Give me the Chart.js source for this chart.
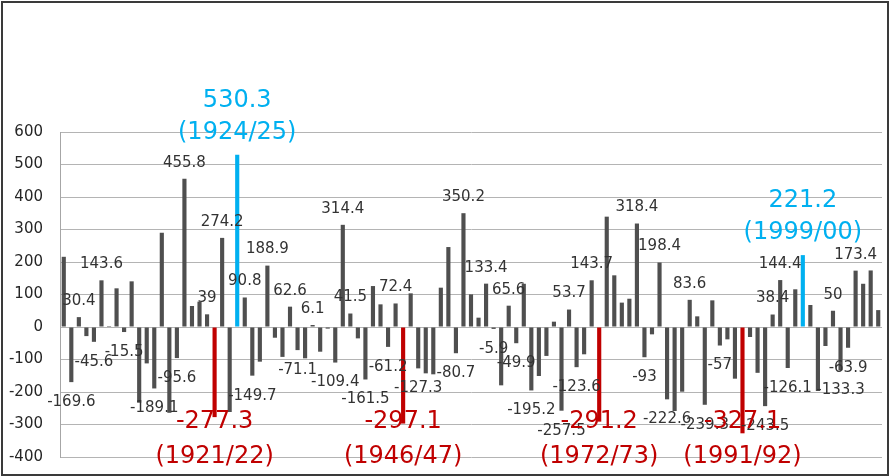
<!DOCTYPE html>
<html>
<head>
<meta charset="utf-8">
<script src="https://cdn.jsdelivr.net/npm/chart.js@4.4.1/dist/chart.umd.min.js"></script>
<style>
  html, body { margin: 0; padding: 0; background: #ffffff; overflow: hidden; }
  #wrap { position: relative; width: 891px; height: 476px; }
</style>
</head>
<body>
<div id="wrap"><canvas id="c"></canvas></div>
<script>
// Seasonal rainfall anomaly, 1901/02 to 2009/10
const seasons = [
  '1901/02','1902/03','1903/04','1904/05','1905/06','1906/07','1907/08','1908/09','1909/10','1910/11',
  '1911/12','1912/13','1913/14','1914/15','1915/16','1916/17','1917/18','1918/19','1919/20','1920/21',
  '1921/22','1922/23','1923/24','1924/25','1925/26','1926/27','1927/28','1928/29','1929/30','1930/31',
  '1931/32','1932/33','1933/34','1934/35','1935/36','1936/37','1937/38','1938/39','1939/40','1940/41',
  '1941/42','1942/43','1943/44','1944/45','1945/46','1946/47','1947/48','1948/49','1949/50','1950/51',
  '1951/52','1952/53','1953/54','1954/55','1955/56','1956/57','1957/58','1958/59','1959/60','1960/61',
  '1961/62','1962/63','1963/64','1964/65','1965/66','1966/67','1967/68','1968/69','1969/70','1970/71',
  '1971/72','1972/73','1973/74','1974/75','1975/76','1976/77','1977/78','1978/79','1979/80','1980/81',
  '1981/82','1982/83','1983/84','1984/85','1985/86','1986/87','1987/88','1988/89','1989/90','1990/91',
  '1991/92','1992/93','1993/94','1994/95','1995/96','1996/97','1997/98','1998/99','1999/00','2000/01',
  '2001/02','2002/03','2003/04','2004/05','2005/06','2006/07','2007/08','2008/09','2009/10'
];

const anomaly = [
  216, -169.6, 30.4, -28, -45.6, 143.6, 3, 119, -15.5, 140.5,
  -233, -112, -189.1, 290, -264, -95.6, 455.8, 64.6, 78, 39,
  -277.3, 274.2, -261.5, 530.3, 90.8, -149.7, -106.7, 188.9, -33, -92,
  62.6, -71.1, -96.4, 6.1, -76, -5, -109.4, 314.4, 41.5, -35,
  -161.5, 126, 69.7, -61.2, 72.4, -297.1, 103.6, -127.3, -142.6, -145.6,
  121, 246, -80.7, 350.2, 100.5, 28.7, 133.4, -5.9, -179.5, 65.6,
  -49.9, 133, -195.2, -150.8, -89, 16.4, -257.5, 53.7, -123.6, -84,
  143.7, -291.2, 339.5, 159, 75, 87, 318.4, -93, -22.6, 198.4,
  -222.6, -258.5, -199, 83.6, 32.8, -239.3, 82, -57, -38, -159,
  -327.1, -30.8, -141, -243.5, 38.4, 144.4, -126.1, 116, 221.2, 67.7,
  -197, -58.5, 50, -133.3, -63.9, 173.4, 133, 174, 52
];

// Seasons whose value is printed next to the bar
const labelledSeasons = [
  '1902/03','1903/04','1905/06','1906/07','1909/10','1913/14','1916/17','1917/18','1920/21','1922/23',
  '1925/26','1926/27','1928/29','1931/32','1932/33','1934/35','1937/38','1938/39','1939/40','1941/42',
  '1944/45','1945/46','1948/49','1953/54','1954/55','1957/58','1958/59','1960/61','1961/62','1963/64',
  '1967/68','1968/69','1969/70','1971/72','1977/78','1978/79','1980/81','1981/82','1984/85','1986/87',
  '1988/89','1994/95','1995/96','1996/97','1997/98','2003/04','2004/05','2005/06','2006/07'
];

// Extreme seasons
const wettestSeasons = ['1924/25', '1999/00'];
const driestSeasons = ['1921/22', '1946/47', '1972/73', '1991/92'];

const yTicks = [600, 500, 400, 300, 200, 100, 0, -100, -200, -300, -400];

const BAR = '#4f4f4f';
const WET = '#00b0f0';
const DRY = '#c00000';
const FONT = '"DejaVu Sans", Verdana, sans-serif';

function barColour(i) {
  const s = seasons[i];
  if (wettestSeasons.includes(s)) return WET;
  if (driestSeasons.includes(s)) return DRY;
  return BAR;
}

const valueLabels = {
  id: 'valueLabels',
  afterDatasetsDraw(chart) {
    const ctx = chart.ctx;
    const meta = chart.getDatasetMeta(0);
    const y = chart.scales.y;
    ctx.save();
    ctx.textAlign = 'center';
    ctx.textBaseline = 'middle';

    // ordinary value labels
    ctx.font = '15px ' + FONT;
    ctx.fillStyle = '#333333';
    labelledSeasons.forEach(s => {
      const i = seasons.indexOf(s);
      const v = anomaly[i];
      const bar = meta.data[i];
      const ly = v >= 0 ? bar.y - 16 : bar.y + 20;
      ctx.fillText(String(v), bar.x, ly);
    });

    // extreme seasons: value and season, larger
    ctx.font = '24px ' + FONT;
    wettestSeasons.forEach(s => {
      const i = seasons.indexOf(s);
      const bar = meta.data[i];
      ctx.fillStyle = WET;
      ctx.fillText(String(anomaly[i]), bar.x, bar.y - 54);
      ctx.fillText('(' + s + ')', bar.x, bar.y - 22);
    });
    driestSeasons.forEach(s => {
      const i = seasons.indexOf(s);
      const bar = meta.data[i];
      ctx.fillStyle = DRY;
      ctx.fillText(String(anomaly[i]), bar.x, y.getPixelForValue(-291));
      ctx.fillText('(' + s + ')', bar.x, y.getPixelForValue(-398));
    });
    ctx.restore();
  }
};

const frame = {
  id: 'frame',
  beforeDraw(chart) {
    const ctx = chart.ctx;
    ctx.save();
    ctx.fillStyle = '#ffffff';
    ctx.fillRect(0, 0, chart.width, chart.height);
    ctx.restore();
  },
  afterDraw(chart) {
    const ctx = chart.ctx;
    ctx.save();
    ctx.strokeStyle = '#3a3a3a';
    ctx.lineWidth = 2;
    ctx.strokeRect(2, 2, chart.width - 5, chart.height - 3);
    ctx.restore();
  }
};

new Chart(document.getElementById('c'), {
  type: 'bar',
  data: {
    labels: seasons,
    datasets: [{
      data: anomaly,
      backgroundColor: ctx => barColour(ctx.dataIndex),
      borderWidth: 0,
      categoryPercentage: 1.0,
      barPercentage: 0.55
    }]
  },
  options: {
    responsive: true,
    maintainAspectRatio: false,
    animation: false,
    devicePixelRatio: 1,
    layout: { padding: { top: 132, left: 0, right: 9, bottom: 19 } },
    plugins: {
      legend: { display: false },
      tooltip: { enabled: false },
      title: { display: false }
    },
    scales: {
      x: {
        display: false,
        grid: { display: false }
      },
      y: {
        min: -400,
        max: 600,
        afterFit(scale) {
          scale.width = 60;
          scale.paddingTop = 0;
          scale.paddingBottom = 0;
        },
        afterBuildTicks(scale) { scale.ticks = yTicks.map(v => ({ value: v })); },
        ticks: {
          font: { family: FONT, size: 15 },
          color: '#262626',
          padding: 17
        },
        grid: {
          color: '#b4b4b4',
          lineWidth: 1,
          drawTicks: false
        },
        border: { display: true, color: '#a6a6a6', width: 1 }
      }
    }
  },
  plugins: [frame, valueLabels]
});
</script>
</body>
</html>
